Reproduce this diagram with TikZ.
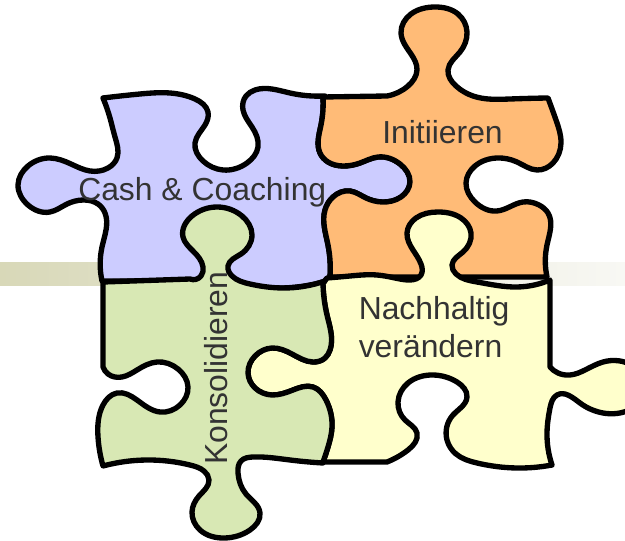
\documentclass[tikz,border=0pt]{standalone}
\usepackage{fontspec}
\usetikzlibrary{hobby}
\setmainfont{Liberation Sans}
\definecolor{cPurple}{HTML}{CCCCFF}
\definecolor{cOrange}{HTML}{FFBB77}
\definecolor{cGreen}{HTML}{D8E8B4}
\definecolor{cYellow}{HTML}{FFFFCC}
\definecolor{cText}{HTML}{333333}
\definecolor{cBandL}{HTML}{D8D8B8}
\definecolor{cBandR}{HTML}{F8F8F4}
\tikzset{
  piece/.style={draw=black,line width=4pt,line join=round,use Hobby shortcut},
  label/.style={font=\fontsize{23.9}{28}\selectfont,text=cText,inner sep=0pt,anchor=base west}
}
\begin{document}
\begin{tikzpicture}[x=0.75pt,y=-0.75pt]
\clip (0,0) rectangle (625,541);
\fill[white] (0,0) rectangle (625,541);
\shade[left color=cBandL,right color=cBandR] (0,263) rectangle (625,286);
% purple
\path[piece,fill=cPurple]
  (103,98) .. (140,94) .. (170,93) .. (195,99) .. (208,112) .. (205,125) .. (195,143) .. (203,161) .. (223,170) .. (247,163) .. (258,147) .. (252,127) .. (243,110) .. (246,96) .. (255,90) .. (290,93) .. (325,96)
  -- (323,97) .. (321,125) .. (320,153) .. (328,162) .. (343,166) .. (360,163) .. (378,157) .. (400,164) .. (410,182) .. (401,197) .. (382,202) .. (366,198) .. (350,191) .. (333,197) .. (325,210) .. (328,245) .. (330,277)
  -- (330,280) .. (283,288) .. (240,284) -- (197,281) -- (102,281)
  -- (102,281) .. (102,247) .. (105,213) .. (98,204) .. (83,200) .. (67,204) .. (50,212) .. (28,205) .. (18,185) .. (28,166) .. (50,158) .. (71,164) .. (90,171) .. (108,168) .. (117,158) .. (115,137) .. (110,118) .. (103,98) -- cycle;
% orange
\path[piece,fill=cOrange]
  (323,97) -- (387,96) .. (408,86) .. (417,70) .. (411,54) .. (401,33) .. (411,14) .. (435,7) .. (458,14) .. (467,32) .. (460,52) .. (448,70) .. (456,86) .. (473,96) .. (510,99) .. (548,98)
  -- (548,98) .. (556,120) .. (561,143) .. (553,163) .. (537,170) .. (517,162) .. (497,158) .. (475,166) .. (466,183) .. (475,202) .. (497,211) .. (523,202) .. (539,205) .. (548,213) .. (547,245) .. (547,277)
  -- (330,277)
  -- (330,277) .. (328,245) .. (325,210) .. (333,197) .. (350,191) .. (366,198) .. (382,202) .. (401,197) .. (410,182) .. (400,164) .. (378,157) .. (360,163) .. (343,166) .. (328,162) .. (320,153) .. (321,125) .. (323,97) -- cycle;
% yellow
\path[piece,fill=cYellow]
  (327,278) .. (350,276) .. (377,275) .. (395,278) .. (410,280) .. (421,275) .. (421,264) .. (413,250) .. (407,233) .. (416,218) .. (438,212) .. (461,218) .. (471,233) .. (463,252) .. (452,265) .. (456,274) .. (477,282) .. (517,287) .. (550,280)
  -- (550,280) -- (550,367) .. (558,373) .. (570,375) .. (585,370) .. (603,362) .. (645,388) .. (603,413) .. (580,403) .. (557,395) .. (550,408) .. (547,433) .. (552,465)
  -- (552,465) .. (517,468) .. (477,463) .. (456,454) .. (447,440) .. (453,415) .. (467,397) .. (457,382) .. (433,375) .. (408,383) .. (398,402) .. (405,420) .. (417,433) .. (408,450) .. (387,462)
  -- (323,462)
  -- (323,462) .. (328,447) .. (332,427) .. (326,400) .. (313,387) .. (293,390) .. (272,395) .. (255,388) .. (248,373) .. (255,356) .. (272,348) .. (292,354) .. (313,362) .. (325,358) .. (330,350) .. (327,315) .. (323,283) -- cycle;
% green
\path[piece,fill=cGreen]
  (103,282) -- (190,279) .. (201,276) .. (203,267) .. (193,251) .. (183,237) .. (192,216) .. (217,207) .. (242,216) .. (252,235) .. (241,254) .. (228,266) .. (232,276) .. (250,284) .. (283,288) .. (325,281)
  -- (323,283) .. (327,315) .. (330,350) .. (325,358) .. (313,362) .. (292,354) .. (272,348) .. (255,356) .. (248,373) .. (255,388) .. (272,395) .. (293,390) .. (313,387) .. (326,400) .. (332,427) .. (328,447) .. (323,462)
  -- (323,463) .. (290,460) .. (253,457) .. (241,461) .. (238,473) .. (246,494) .. (260,513) .. (250,530) .. (225,538) .. (200,530) .. (192,512) .. (199,496) .. (209,480) .. (204,471) .. (190,465) .. (147,460) .. (103,466)
  -- (103,466) .. (98,437) .. (103,405) .. (117,393) .. (137,400) .. (160,412) .. (180,405) .. (188,387) .. (178,369) .. (157,362) .. (137,370) .. (122,377) .. (108,374) .. (103,367) -- (103,282) -- cycle;
% labels
\node[label] (cash) at (78,200.5) {Cash \& Coaching};
\node[label] (init) at (382,143.5) {Initiieren};
\node[label] (nach) at (358.5,319.5) {Nachhaltig};
\node[label] (ver) at (358.5,357.5) {verändern};
\node[label,rotate=90] (kons) at (227.5,465) {Konsolidieren};
\end{tikzpicture}
\end{document}
